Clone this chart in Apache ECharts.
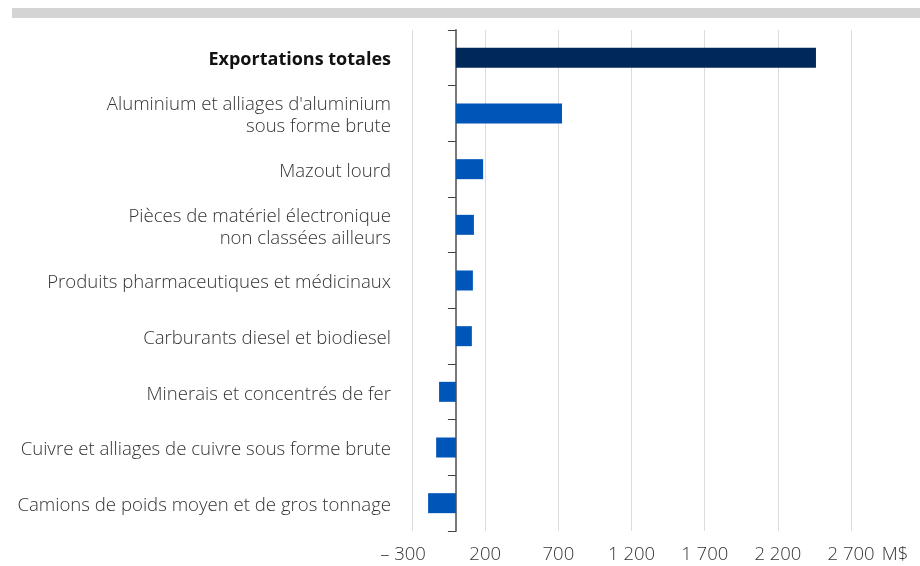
<!DOCTYPE html>
<html>
<head>
<meta charset="utf-8">
<script src="https://cdn.jsdelivr.net/npm/echarts@6/dist/echarts.min.js"></script>
<style>
  html, body { margin: 0; padding: 0; background: #fff; }
  #chart { width: 920px; height: 566px; }
</style>
</head>
<body>
<div id="chart"></div>
<script>
// products, top to bottom
const categories = [
  'Exportations totales',
  "Aluminium et alliages d'aluminium\nsous forme brute",
  'Mazout lourd',
  'Pièces de matériel électronique\nnon classées ailleurs',
  'Produits pharmaceutiques et médicinaux',
  'Carburants diesel et biodiesel',
  'Minerais et concentrés de fer',
  'Cuivre et alliages de cuivre sous forme brute',
  'Camions de poids moyen et de gros tonnage'
];
// change in M$
const values = [2460, 725, 186, 123, 116, 109, -115, -135, -190];

const axisMin = -300;
const axisMax = 3000;
const axisStep = 500;
const unitLabel = 'M$';

const NAVY = '#00295a';
const BLUE = '#0055b8';
const FONT = '"Open Sans", "Noto Sans", sans-serif';
const TXT = '#333333';

function fmtNum(v) {
  if (v === axisMax) return unitLabel;
  const s = String(Math.abs(v)).replace(/\B(?=(\d{3})+(?!\d))/g, ' ');
  return v < 0 ? '{neg|– ' + s + '}' : s;
}

const chart = echarts.init(document.getElementById('chart'), null, { renderer: 'canvas' });

chart.setOption({
  animation: false,
  backgroundColor: '#fff',
  graphic: [{
    type: 'rect',
    shape: { x: 12, y: 8, width: 908, height: 10 },
    style: { fill: '#d4d4d4' },
    silent: true
  }],
  grid: { left: 412, right: 25, top: 30, bottom: 35, containLabel: false },
  xAxis: {
    type: 'value',
    min: axisMin,
    max: axisMax,
    interval: axisStep,
    axisLine: { show: false },
    axisTick: { show: false },
    splitLine: { show: true, showMaxLine: false, lineStyle: { color: '#dcdcdc', width: 1 } },
    axisLabel: {
      margin: 14,
      color: TXT,
      fontFamily: FONT,
      fontSize: 18.5,
      fontWeight: 300,
      formatter: fmtNum,
      rich: {
        neg: { fontFamily: FONT, fontSize: 18.5, fontWeight: 300, color: TXT, padding: [0, 18, 0, 0] }
      }
    }
  },
  yAxis: {
    type: 'category',
    inverse: true,
    data: categories,
    axisLine: { show: true, onZero: true, lineStyle: { color: '#7a7a7a', width: 2 } },
    axisTick: { show: true, length: 8, lineStyle: { color: '#444', width: 1 } },
    splitLine: { show: false },
    axisLabel: {
      margin: 21,
      color: TXT,
      fontFamily: FONT,
      fontSize: 18.6,
      fontWeight: 300,
      lineHeight: 22,
      align: 'right',
      padding: [5, 0, 0, 0],
      formatter: (v, i) => i === 0 ? '{b|' + v + '}' : v,
      rich: {
        b: { fontFamily: FONT, fontSize: 18, fontWeight: 'bold', color: '#111' }
      }
    }
  },
  series: [{
    type: 'bar',
    data: values,
    barWidth: 20,
    itemStyle: {
      color: p => p.dataIndex === 0 ? NAVY : BLUE
    }
  }]
});
</script>
</body>
</html>
